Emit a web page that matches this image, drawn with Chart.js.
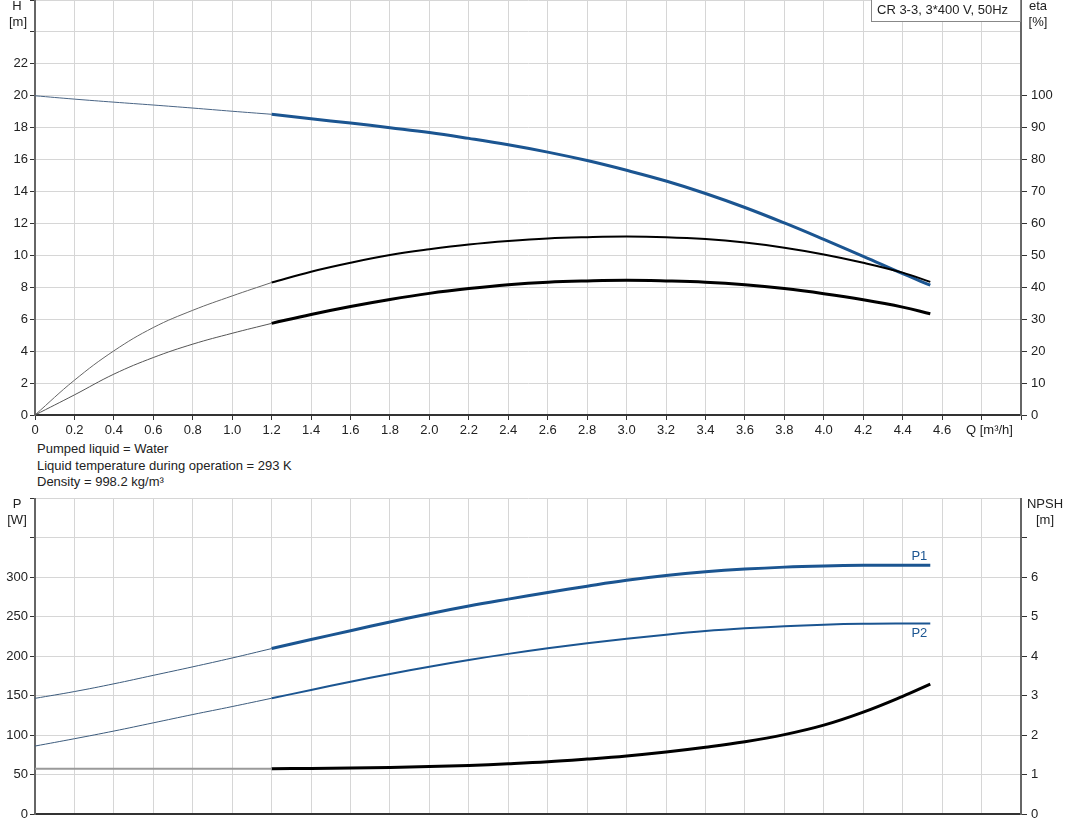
<!DOCTYPE html>
<html>
<head>
<meta charset="utf-8">
<script src="https://cdn.jsdelivr.net/npm/chart.js@4"></script>
<style>
body { margin: 0; background: #fff; width: 1071px; height: 833px; position: relative; overflow: hidden; font-family: Arial, "Liberation Sans", sans-serif; }
#chart-top { position: absolute; left: 0; top: 0; }
#chart-bottom { position: absolute; left: 0; top: 498px; }
.info { position: absolute; left: 37px; top: 441px; font-size: 13px; color: #222; line-height: 16.5px; }
</style>
</head>
<body>
<canvas id="chart-top" width="1071" height="440"></canvas>
<div class="info">Pumped liquid = Water<br>Liquid temperature during operation = 293 K<br>Density = 998.2 kg/m³</div>
<canvas id="chart-bottom" width="1071" height="335"></canvas>
<script>
// Q [m3/h]
const flow = [0, 0.2, 0.4, 0.6, 0.8, 1.0, 1.2, 1.4, 1.6, 1.8, 2.0, 2.2, 2.4, 2.6, 2.8, 3.0, 3.2, 3.4, 3.6, 3.8, 4.0, 4.2, 4.4, 4.54];
// H [m]
const head = [20.0, 19.79, 19.6, 19.42, 19.23, 19.03, 18.84, 18.56, 18.29, 18.0, 17.7, 17.33, 16.93, 16.47, 15.94, 15.33, 14.66, 13.88, 13.0, 12.03, 11.0, 9.94, 8.85, 8.13];
// eta [%]
const etaPump = [0, 10.9, 20.1, 27.4, 32.8, 37.3, 41.5, 44.9, 47.7, 50.1, 51.9, 53.4, 54.5, 55.3, 55.7, 55.9, 55.7, 55.1, 54.0, 52.4, 50.3, 47.7, 44.6, 41.7];
const etaTotal = [0, 6.3, 12.8, 18.0, 22.2, 25.6, 28.7, 31.5, 34.0, 36.2, 38.1, 39.6, 40.8, 41.6, 42.0, 42.2, 42.0, 41.6, 40.8, 39.6, 38.0, 36.1, 33.8, 31.7];
// P [W]
const powerP1 = [146.4, 155, 164.8, 175.5, 186.3, 197.5, 209.4, 220.8, 232, 243, 253.5, 263.2, 272, 280.5, 288.4, 295.8, 301.8, 306.5, 310, 312.5, 314, 314.8, 315, 314.9];
const powerP2 = [86, 95.3, 105, 115.4, 125.9, 136, 146.5, 157, 167.4, 177.2, 186.5, 195, 202.7, 209.7, 216, 221.8, 227, 231.5, 235, 237.8, 239.7, 240.8, 241.1, 241];
// NPSH [m]
const npsh = [1.147, 1.147, 1.147, 1.147, 1.147, 1.147, 1.147, 1.155, 1.165, 1.18, 1.2, 1.23, 1.27, 1.32, 1.39, 1.47, 1.57, 1.69, 1.83, 2.01, 2.25, 2.58, 2.98, 3.29];

const split = flow.indexOf(1.2);
const blue = '#1b5591';
const gridColor = '#d6d6d6';
const font = 'Arial, "Liberation Sans", sans-serif';

Chart.defaults.font.family = font;
Chart.defaults.font.size = 13;
Chart.defaults.color = '#222';

function pts(vals, from, to) {
    return flow.slice(from, to).map((q, i) => ({ x: q, y: vals[from + i] }));
}

// thin line up to 1.2 m3/h, heavier line after
function curve(vals, axis, thin, thick) {
    const base = { yAxisID: axis, pointRadius: 0, fill: false, tension: 0.4, borderJoinStyle: 'round' };
    return [
        Object.assign({ data: pts(vals, 0, split + 1), borderColor: thin[0], borderWidth: thin[1] }, base),
        Object.assign({ data: pts(vals, split), borderColor: thick[0], borderWidth: thick[1] }, base),
    ];
}

function fixSize(prop, size) {
    return function(s) {
        s[prop] = size;
        s.paddingTop = 0; s.paddingBottom = 0; s.paddingLeft = 0; s.paddingRight = 0;
    };
}

function xScale(showLabels, height) {
    return {
        type: 'linear', min: 0, max: 5,
        afterFit: fixSize('height', height),
        ticks: {
            display: showLabels, stepSize: 0.2, autoSkip: false, maxRotation: 0, padding: 3,
            callback: v => v > 4.7 ? '' : (Math.abs(v) < 1e-9 ? '0' : v.toFixed(1)),
        },
        grid: { color: gridColor, tickColor: '#333', tickLength: 5, drawTicks: showLabels },
        border: { color: '#333', width: 2 },
    };
}

function leftScale(max, step, lastLabel) {
    return {
        position: 'left', min: 0, max: max,
        afterFit: fixSize('width', 35),
        ticks: { stepSize: step, padding: 2, callback: v => v <= lastLabel ? v : '' },
        grid: { color: gridColor, tickColor: '#333', tickLength: 5 },
        border: { color: '#666', width: 2 },
    };
}

function rightScale(max, step, lastTick, lastLabel) {
    return {
        position: 'right', min: 0, max: max,
        afterFit: fixSize('width', 50),
        afterBuildTicks: s => { s.ticks = s.ticks.filter(t => t.value <= lastTick); },
        ticks: { stepSize: step, padding: 4, callback: v => v <= lastLabel ? v : '' },
        grid: { drawOnChartArea: false, tickColor: '#333', tickLength: 6 },
        border: { color: '#666', width: 2 },
    };
}

function label(ctx, text, x, y, align, color) {
    ctx.textAlign = align;
    ctx.fillStyle = color || '#222';
    ctx.fillText(text, x, y);
}

const topTexts = {
    id: 'topTexts',
    afterDraw(chart) {
        const ctx = chart.ctx;
        ctx.save();
        ctx.font = '13px ' + font;
        ctx.textBaseline = 'middle';
        label(ctx, 'H', 17, 6, 'center');
        label(ctx, '[m]', 18, 22, 'center');
        label(ctx, 'eta', 1038, 6, 'center');
        label(ctx, '[%]', 1038, 22, 'center');
        label(ctx, 'Q [m³/h]', 966, 430, 'left');
        ctx.fillStyle = '#fff';
        ctx.fillRect(872, 0, 148, 21);
        ctx.strokeStyle = '#888';
        ctx.lineWidth = 1;
        ctx.strokeRect(871.5, -0.5, 149, 22);
        label(ctx, 'CR 3-3, 3*400 V, 50Hz', 877, 10, 'left');
        ctx.restore();
    }
};

const bottomTexts = {
    id: 'bottomTexts',
    afterDraw(chart) {
        const ctx = chart.ctx;
        const last = flow.length - 1;
        const xEnd = chart.scales.x.getPixelForValue(flow[last]);
        ctx.save();
        ctx.font = '13px ' + font;
        ctx.textBaseline = 'middle';
        label(ctx, 'P', 17, 6, 'center');
        label(ctx, '[W]', 17, 22, 'center');
        label(ctx, 'NPSH', 1045, 6, 'center');
        label(ctx, '[m]', 1045, 22, 'center');
        label(ctx, 'P1', xEnd - 3, chart.scales.y.getPixelForValue(powerP1[last]) - 9, 'right', blue);
        label(ctx, 'P2', xEnd - 3, chart.scales.y.getPixelForValue(powerP2[last]) + 10, 'right', blue);
        ctx.restore();
    }
};

const common = {
    responsive: false,
    animation: false,
    devicePixelRatio: 1,
    layout: { padding: 0 },
    plugins: { legend: { display: false }, tooltip: { enabled: false } },
};

new Chart(document.getElementById('chart-top'), {
    type: 'line',
    data: {
        datasets: [].concat(
            curve(etaTotal, 'eta', ['#555', 1], ['#000', 3]),
            curve(etaPump, 'eta', ['#666', 1], ['#000', 2]),
            curve(head, 'y', ['#4a6585', 1], [blue, 3])
        )
    },
    options: Object.assign({}, common, {
        scales: {
            x: xScale(true, 25),
            y: leftScale(26, 2, 22),
            eta: rightScale(130, 10, 100, 100),
        }
    }),
    plugins: [topTexts]
});

new Chart(document.getElementById('chart-bottom'), {
    type: 'line',
    data: {
        datasets: [].concat(
            curve(npsh, 'npsh', ['#9a9a9a', 2], ['#000', 3]),
            curve(powerP2, 'y', ['#3d5c7d', 1], [blue, 2]),
            curve(powerP1, 'y', ['#3d5c7d', 1], [blue, 3])
        )
    },
    options: Object.assign({}, common, {
        scales: {
            x: xScale(false, 19),
            y: leftScale(400, 50, 300),
            npsh: rightScale(8, 1, 7, 6),
        }
    }),
    plugins: [bottomTexts]
});
</script>
</body>
</html>
